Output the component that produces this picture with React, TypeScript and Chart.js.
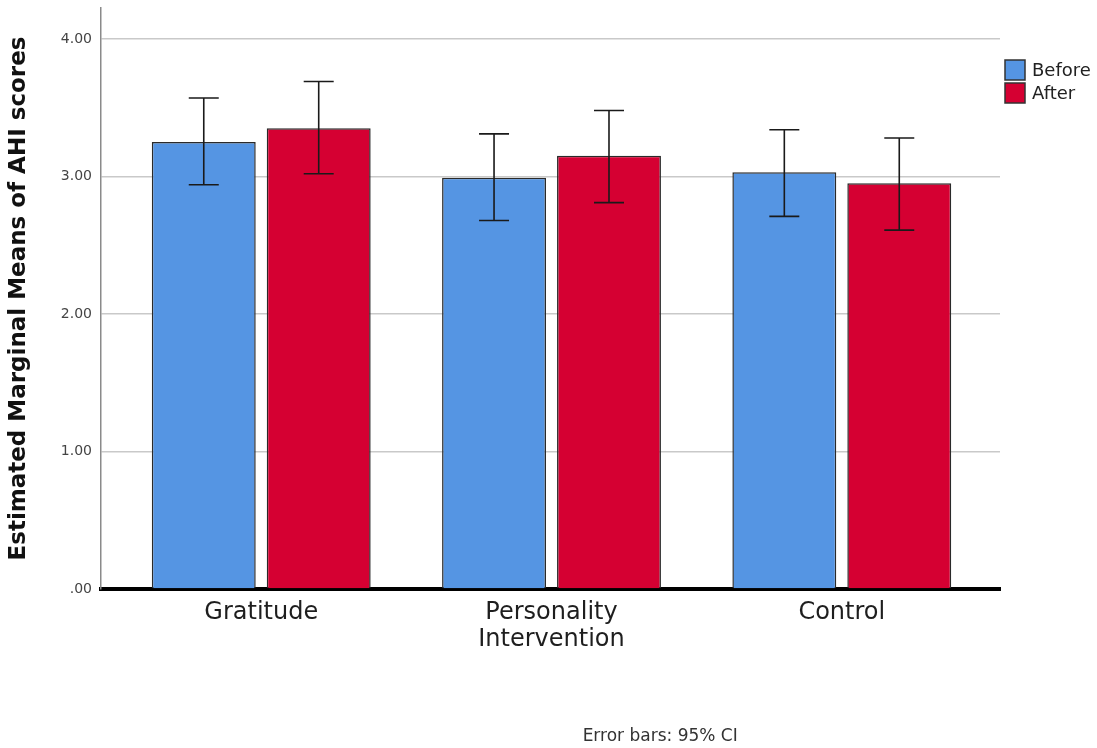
import React, { useEffect, useRef } from "react";
import { Chart, registerables } from "chart.js";

Chart.register(...registerables);

const categories: (string | string[])[] = ["Gratitude", ["Personality", "Intervention"], "Control"];
const seriesNames = ["Before", "After"];
const beforeMeans = [3.25, 2.99, 3.03];
const beforeLower = [2.94, 2.68, 2.71];
const beforeUpper = [3.57, 3.31, 3.34];
const afterMeans = [3.35, 3.15, 2.95];
const afterLower = [3.02, 2.81, 2.61];
const afterUpper = [3.69, 3.48, 3.28];
const yTicks = [0, 1, 2, 3, 4];
const seriesColors = ["#5595E3", "#D50032"];
const footnote = "Error bars: 95% CI";
const yTitle = "Estimated Marginal Means of AHI scores";

const FONT = "'DejaVu Sans', sans-serif";

export default function App() {
  const ref = useRef<HTMLCanvasElement | null>(null);
  useEffect(() => {
    document.body.style.margin = "0";
    const canvas = ref.current;
    if (!canvas) return;
    const lowers = [beforeLower, afterLower];
    const uppers = [beforeUpper, afterUpper];

    const errorBars = {
      id: "errorBars",
      afterDatasetsDraw(chart: any) {
        const ctx = chart.ctx;
        const y = chart.scales.y;
        ctx.save();
        ctx.strokeStyle = "#1a1a1a";
        ctx.lineWidth = 1.6;
        chart.data.datasets.forEach((_: any, di: number) => {
          const meta = chart.getDatasetMeta(di);
          meta.data.forEach((bar: any, j: number) => {
            const x = bar.x;
            const yl = y.getPixelForValue(lowers[di][j]);
            const yu = y.getPixelForValue(uppers[di][j]);
            const half = 15;
            ctx.beginPath();
            ctx.moveTo(x, yl);
            ctx.lineTo(x, yu);
            ctx.moveTo(x - half, yu);
            ctx.lineTo(x + half, yu);
            ctx.moveTo(x - half, yl);
            ctx.lineTo(x + half, yl);
            ctx.stroke();
          });
        });
        ctx.restore();
      },
    };

    const customLegend = {
      id: "customLegend",
      afterDraw(chart: any) {
        const ctx = chart.ctx;
        const area = chart.chartArea;
        ctx.save();
        const x0 = area.right + 5;
        let y0 = area.top + 52;
        chart.data.datasets.forEach((ds: any) => {
          ctx.fillStyle = ds.backgroundColor;
          ctx.fillRect(x0, y0, 20, 20);
          ctx.strokeStyle = "#333";
          ctx.lineWidth = 1.5;
          ctx.strokeRect(x0, y0, 20, 20);
          ctx.fillStyle = "#222";
          ctx.font = `18px ${FONT}`;
          ctx.textBaseline = "middle";
          ctx.textAlign = "left";
          ctx.fillText(ds.label, x0 + 27, y0 + 11);
          y0 += 23;
        });
        // footnote
        ctx.fillStyle = "#333";
        ctx.font = `17px ${FONT}`;
        ctx.textAlign = "center";
        ctx.textBaseline = "middle";
        ctx.fillText(footnote, area.left + (area.right - area.left) * 0.622, chart.height - 11);
        ctx.restore();
      },
    };

    const chart = new Chart(canvas, {
      type: "bar",
      data: {
        datasets: [
          {
            label: seriesNames[0],
            data: beforeMeans.map((v, i) => ({ x: i, y: v })),
            backgroundColor: seriesColors[0],
            borderColor: "#2a2a2a",
            borderWidth: 1.5,
          },
          {
            label: seriesNames[1],
            data: afterMeans.map((v, i) => ({ x: i, y: v })),
            backgroundColor: seriesColors[1],
            borderColor: "#2a2a2a",
            borderWidth: 1.5,
          },
        ],
      },
      options: {
        responsive: false,
        animation: false,
        categoryPercentage: 0.792,
        barPercentage: 0.904,
        layout: { padding: { left: 0, right: 97, top: 8, bottom: 0 } },
        plugins: {
          legend: { display: false },
          tooltip: { enabled: false },
        },
        scales: {
          x: {
            type: "linear",
            offset: false,
            min: -0.552,
            max: 2.545,
            grid: { display: false, drawTicks: false, offset: false },
            border: { display: true, color: "#000", width: 4 },
            afterBuildTicks: (scale: any) => {
              scale.ticks = categories.map((_, i) => ({ value: i }));
            },
            afterFit: (scale: any) => {
              scale.height = 159;
              scale.paddingLeft = 0;
              scale.paddingRight = 0;
            },
            ticks: {
              autoSkip: false,
              maxRotation: 0,
              padding: 11,
              color: "#1e1e1e",
              font: { family: FONT, size: 24, lineHeight: 1.1 },
              callback: (v: any) => categories[Math.round(v)] as any,
            },
          },
          y: {
            type: "linear",
            min: 0,
            max: 4.225,
            afterBuildTicks: (scale: any) => {
              scale.ticks = yTicks.map((v) => ({ value: v }));
            },
            afterFit: (scale: any) => {
              scale.width = 101;
              scale.paddingTop = 0;
              scale.paddingBottom = 0;
            },
            grid: { color: "#c9c9c9", lineWidth: 1.5, drawTicks: false },
            border: { display: true, color: "#8a8a8a", width: 1.5 },
            ticks: {
              padding: 9,
              color: "#444",
              font: { family: FONT, size: 14 },
              callback: (v: any) => (Number(v) === 0 ? ".00" : Number(v).toFixed(2)),
            },
            title: {
              display: true,
              text: yTitle,
              color: "#111",
              font: { family: FONT, size: 23, weight: "bold" },
              padding: { top: 5, bottom: 0 },
            },
          },
        },
      },
      plugins: [errorBars, customLegend],
    } as any);
    return () => chart.destroy();
  }, []);
  return (
    <div style={{ width: 1097, height: 748 }}>
      <canvas ref={ref} width={1097} height={748} style={{ display: "block" }} />
    </div>
  );
}
